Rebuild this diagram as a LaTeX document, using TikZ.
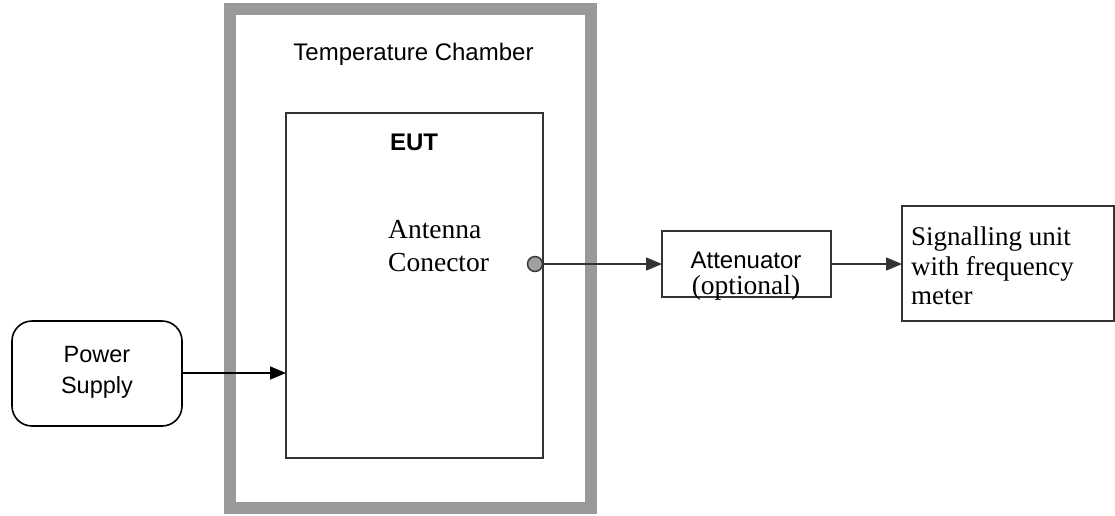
\documentclass[tikz,border=0pt]{standalone}
\usepackage{fontspec}
\setmainfont{Liberation Serif}
\setsansfont{Liberation Sans}
\usetikzlibrary{arrows.meta}
\definecolor{framegray}{HTML}{999999}
\definecolor{linegray}{HTML}{333333}
\definecolor{dotgray}{HTML}{A0A0A0}
\tikzset{
  boxstyle/.style={draw=linegray, line width=1.6pt, inner sep=0pt, outer sep=0pt, anchor=north west},
  arrowline/.style={draw=linegray, line width=1.6pt, -{Triangle[length=16pt,width=13pt]}},
  sanstext/.style={font=\sffamily\fontsize{24}{28}\selectfont, inner sep=0pt, anchor=base},
  seriftext/.style={font=\rmfamily\fontsize{27.5}{30}\selectfont, inner sep=0pt, anchor=base west},
}
\begin{document}
\begin{tikzpicture}[x=1pt,y=-1pt]
\useasboundingbox (0,0) rectangle (1115,515);
% chamber
\node[draw=framegray, line width=12pt, inner sep=0pt, outer sep=0pt, anchor=north west,
      minimum width=361pt, minimum height=499pt] (chamber) at (230,9) {};
\node[sanstext] (chtitle) at (413.5,60) {Temperature Chamber};
% EUT
\node[boxstyle, minimum width=257pt, minimum height=345pt] (eut) at (286,113) {};
\node[sanstext, font=\sffamily\bfseries\fontsize{24}{28}\selectfont] (euttitle) at (414,150) {EUT};
\node[seriftext] (ant1) at (388,238) {Antenna};
\node[seriftext] (ant2) at (388,271) {Conector};
\node[circle, draw=linegray, fill=dotgray, line width=1.4pt, minimum size=15pt, inner sep=0pt, outer sep=0pt] (conn) at (535,264) {};
% attenuator
\node[boxstyle, minimum width=169pt, minimum height=66pt] (att) at (662,231) {};
\node[sanstext] (att1) at (746,268) {Attenuator};
\node[seriftext, anchor=base] (att2) at (746,294) {(optional)};
% signalling unit
\node[boxstyle, minimum width=212pt, minimum height=115pt] (sig) at (902,206) {};
\node[seriftext, font=\rmfamily\fontsize{27}{30}\selectfont] (sig1) at (911,245) {Signalling unit};
\node[seriftext, font=\rmfamily\fontsize{27}{30}\selectfont] (sig2) at (911,275) {with frequency};
\node[seriftext, font=\rmfamily\fontsize{27}{30}\selectfont] (sig3) at (911,304) {meter};
% power supply
\node[draw=black, line width=1.6pt, rounded corners=20pt, inner sep=0pt, outer sep=0pt, anchor=north west,
      minimum width=170pt, minimum height=105pt] (ps) at (12,321) {};
\node[sanstext, font=\sffamily\fontsize{23.5}{28}\selectfont] (ps1) at (97,362) {Power};
\node[sanstext, font=\sffamily\fontsize{23.5}{28}\selectfont] (ps2) at (97,393) {Supply};
% connectors
\draw[arrowline, draw=black] (ps.east |- 0,373) -- (eut.west |- 0,373);
\draw[arrowline] (conn.east) -- (att.west |- conn.east);
\draw[arrowline] (att.east |- conn.east) -- (sig.west |- conn.east);
\end{tikzpicture}
\end{document}
